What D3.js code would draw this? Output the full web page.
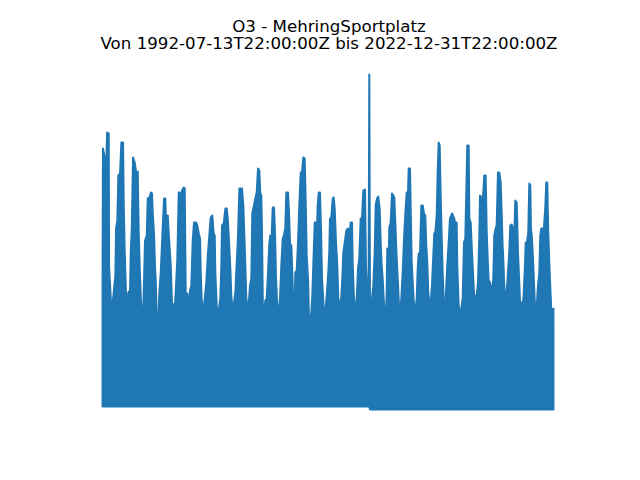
<!DOCTYPE html>
<html>
<head>
<meta charset="utf-8">
<script src="https://cdn.jsdelivr.net/npm/d3@7"></script>
<style>
  html, body { margin: 0; padding: 0; background: #ffffff; }
  svg { display: block; }
</style>
</head>
<body>
<svg id="chart" width="640" height="480"></svg>
<script>
// ---- data (envelope of the hourly O3 series) ----
const titleLines = ["O3 - MehringSportplatz", "Von 1992-07-13T22:00:00Z bis 2022-12-31T22:00:00Z"];
const startTime = "1992-07-13T22:00:00Z";
const endTime = "2022-12-31T22:00:00Z";

// decimal years of envelope vertices
const obsYears = [
1992.533,1992.560,1992.587,1992.655,1992.722,1992.769,1992.837,1992.952,1992.972,1993.087,
1993.154,1993.222,1993.330,1993.398,1993.445,1993.533,1993.600,1993.715,1993.803,1993.918,
1993.965,1994.033,1994.121,1994.188,1994.276,1994.391,1994.438,1994.506,1994.593,1994.708,
1994.796,1994.911,1994.978,1995.046,1995.114,1995.181,1995.249,1995.316,1995.404,1995.519,
1995.586,1995.695,1995.809,1995.877,1995.924,1996.012,1996.080,1996.127,1996.194,1996.282,
1996.370,1996.465,1996.573,1996.688,1996.775,1996.843,1996.938,1997.025,1997.140,1997.248,
1997.316,1997.431,1997.498,1997.586,1997.681,1997.768,1997.816,1997.904,1998.018,1998.086,
1998.153,1998.262,1998.356,1998.444,1998.532,1998.626,1998.714,1998.849,1998.937,1999.032,
1999.120,1999.167,1999.234,1999.302,1999.390,1999.457,1999.545,1999.660,1999.748,1999.842,
1999.950,2000.040,2000.113,2000.153,2000.248,2000.336,2000.423,2000.491,2000.558,2000.606,
2000.721,2000.829,2000.923,2000.991,2001.058,2001.166,2001.234,2001.329,2001.416,2001.504,
2001.599,2001.687,2001.774,2001.957,2002.045,2002.112,2002.180,2002.247,2002.315,2002.409,
2002.497,2002.585,2002.652,2002.767,2002.855,2002.950,2003.038,2003.125,2003.193,2003.261,
2003.308,2003.375,2003.443,2003.531,2003.625,2003.713,2003.801,2003.869,2003.963,2004.031,
2004.119,2004.186,2004.254,2004.341,2004.436,2004.524,2004.612,2004.706,2004.794,2004.882,
2004.949,2005.064,2005.131,2005.199,2005.287,2005.355,2005.422,2005.490,2005.557,2005.652,
2005.740,2005.827,2005.922,2006.010,2006.098,2006.192,2006.260,2006.328,2006.415,2006.483,
2006.571,2006.638,2006.706,2006.773,2006.868,2006.936,2007.003,2007.071,2007.138,2007.226,
2007.294,2007.361,2007.429,2007.496,2007.584,2007.652,2007.719,2007.787,2007.854,2007.901,
2007.989,2008.084,2008.152,2008.219,2008.307,2008.395,2008.462,2008.557,2008.624,2008.665,
2008.733,2008.800,2008.895,2009.003,2009.118,2009.165,2009.232,2009.300,2009.388,2009.435,
2009.503,2009.570,2009.638,2009.726,2009.793,2009.881,2009.975,2010.063,2010.151,2010.266,
2010.333,2010.421,2010.509,2010.556,2010.603,2010.739,2010.827,2010.921,2010.989,2011.077,
2011.164,2011.259,2011.327,2011.394,2011.462,2011.529,2011.597,2011.685,2011.732,2011.773,
2011.820,2011.908,2012.002,2012.090,2012.178,2012.246,2012.313,2012.408,2012.496,2012.583,
2012.651,2012.718,2012.813,2012.901,2012.989,2013.083,2013.171,2013.218,2013.306,2013.353,
2013.421,2013.488,2013.576,2013.664,2013.759,2013.826,2013.894,2013.982,2014.069,2014.164,
2014.252,2014.339,2014.407,2014.475,2014.542,2014.610,2014.705,2014.792,2014.860,2014.948,
2015.015,2015.110,2015.177,2015.245,2015.313,2015.380,2015.448,2015.515,2015.583,2015.650,
2015.691,2015.738,2015.826,2015.920,2016.008,2016.163,2016.298,2016.393,2016.461,2016.501,
2016.596,2016.683,2016.771,2016.866,2016.954,2017.042,2017.109,2017.177,2017.271,2017.312,
2017.406,2017.494,2017.582,2017.650,2017.744,2017.812,2017.900,2017.987,2018.035,2018.123,
2018.190,2018.258,2018.325,2018.420,2018.488,2018.555,2018.623,2018.690,2018.758,2018.866,
2018.934,2019.001,2019.096,2019.163,2019.251,2019.339,2019.433,2019.501,2019.568,2019.588,
2019.656,2019.723,2019.791,2019.859,2019.926,2020.014,2020.082,2020.176,2020.244,2020.311,
2020.379,2020.419,2020.514,2020.554,2020.602,2020.690,2020.785,2020.872,2020.960,2021.055,
2021.122,2021.210,2021.298,2021.365,2021.433,2021.480,2021.548,2021.615,2021.683,2021.750,
2021.818,2021.886,2021.953,2022.041,2022.109,2022.176,2022.244,2022.311,2022.379,2022.446,
2022.514,2022.581,2022.649,2022.743,2022.811,2022.879,2022.919,2022.9997
];

// envelope maxima of O3 at those positions
const o3Peaks = [
120,258,256,251,238,228,274,273,141,108,
98,104,121,131,178,186,231,233,264,264,
201,154,111,103,114,116,154,178,249,244,
234,235,174,138,111,88,86,114,166,171,
208,209,214,213,194,173,139,126,88,78,
114,134,171,208,208,171,191,168,141,93,
102,103,121,148,214,214,198,216,219,218,
114,113,98,116,121,166,184,184,181,173,
168,134,106,99,101,111,124,154,171,189,
191,173,171,134,101,84,101,108,141,181,
183,198,198,188,171,138,111,94,104,114,
144,171,218,218,201,171,141,108,101,103,
121,128,194,201,208,214,238,236,213,211,
174,86,94,106,108,134,163,171,171,199,
199,174,128,101,93,108,141,168,171,179,
214,214,194,163,161,134,101,81,134,136,
164,201,234,234,249,248,204,151,128,88,
86,94,111,141,184,184,168,201,214,214,
178,129,111,94,94,106,119,134,155,188,
189,208,209,198,164,141,108,103,98,111,
128,154,164,176,178,161,174,184,184,143,
114,93,96,114,138,148,188,188,216,217,
141,111,115,332,103,108,121,154,201,208,
210,198,164,141,128,108,91,93,114,158,
113,179,184,213,211,209,184,148,123,94,
96,108,134,168,193,214,214,238,238,198,
144,124,101,96,108,138,153,152,201,201,
193,191,161,144,114,104,104,121,144,173,
174,191,234,264,261,211,171,134,108,98,
88,114,141,164,188,193,188,181,184,141,
101,93,98,108,164,168,214,261,261,188,
184,154,128,108,111,111,124,168,211,209,
204,214,231,231,176,148,124,125,121,114,
128,171,178,181,234,234,224,194,159,156,
128,108,111,118,134,154,181,182,178,168,
184,206,204,184,154,124,88,104,106,134,
164,164,174,223,221,178,168,148,124,101,
103,104,121,133,171,178,178,168,184,198,
224,224,174,134,111,86,96,98
];

// lower bound of the series (drops slightly below zero from mid-2010 on)
const baseYears = [1992.533, 2010.56];
const baseValues = [0, -3];

// ---- drawing ----
function yearToDate(y) {
  const yr = Math.floor(y);
  const s = Date.UTC(yr, 0, 1), e = Date.UTC(yr + 1, 0, 1);
  return new Date(s + (y - yr) * (e - s));
}

const svg = d3.select("#chart");
svg.append("rect").attr("width", 640).attr("height", 480).attr("fill", "#ffffff");

const axL = 80, axR = 576;
const t0 = new Date(startTime), t1 = new Date(endTime);
const span = t1 - t0;
const x = d3.scaleTime()
  .domain([new Date(+t0 - 0.05 * span), new Date(+t1 + 0.05 * span)])
  .range([axL, axR]);
const y = d3.scaleLinear().domain([-4, 332]).range([410.5, 74.5]);

const data = obsYears.map((yy, i) => {
  const bi = d3.bisectRight(baseYears, yy) - 1;
  return { date: yearToDate(yy), v: o3Peaks[i], base: baseValues[Math.max(0, bi)] };
});
data[0].date = t0;
data[data.length - 1].date = t1;

const area = d3.area()
  .x(d => x(d.date))
  .y0(d => y(d.base))
  .y1(d => y(d.v));

svg.append("path")
  .datum(data)
  .attr("d", area)
  .attr("fill", "#1f77b4")
  .attr("stroke", "#1f77b4")
  .attr("stroke-width", 2)
  .attr("stroke-linejoin", "round");

// two-line title as one text block
const cx = 329;
const title = svg.append("text")
  .attr("x", cx).attr("y", 32.3)
  .attr("text-anchor", "middle")
  .attr("font-family", "DejaVu Sans")
  .attr("font-size", "16.67px")
  .attr("fill", "#000");
titleLines.forEach((line, i) => {
  title.append("tspan")
    .attr("x", cx)
    .attr("dy", i === 0 ? 0 : 17)
    .text(line);
});
</script>
</body>
</html>
